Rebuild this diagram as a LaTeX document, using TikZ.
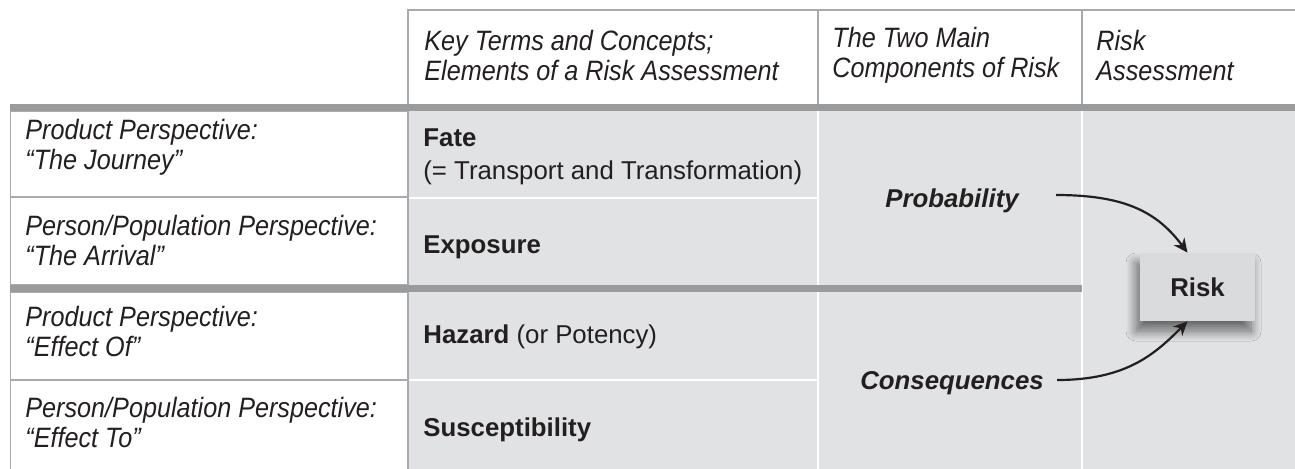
\documentclass[tikz,border=0pt]{standalone}
\usepackage{fontspec}
\setmainfont{Liberation Sans}
\newfontfamily\schmalfont[FakeStretch=0.9]{Liberation Sans}
\usepackage{tikz}
\usetikzlibrary{arrows.meta,positioning,calc,shadows.blur}
\definecolor{hgrau}{HTML}{E1E2E4}
\definecolor{lgrau}{HTML}{A9AAAC}
\definecolor{dgrau}{HTML}{9A9B9D}
\definecolor{kgrau}{HTML}{DADBDD}
\definecolor{schrift}{HTML}{231F20}

\begin{document}
\begin{tikzpicture}[x=0.5pt,y=-0.5pt,
  kopf/.style={font=\schmalfont\itshape\fontsize{14}{15}\selectfont, text=schrift, align=left, inner sep=0pt},
  begriff/.style={font=\fontsize{12.9}{16.5}\selectfont, text=schrift, align=left, inner sep=0pt},
  komp/.style={font=\bfseries\itshape\fontsize{12.9}{15}\selectfont, text=schrift, inner sep=0pt},
  riskbox/.style={fill=kgrau, minimum width=57.5pt, minimum height=34pt, inner sep=0pt,
    font=\bfseries\fontsize{12.9}{15}\selectfont, text=schrift,
    blur shadow={shadow xshift=-2pt, shadow yshift=-5pt, shadow blur radius=5pt, shadow blur steps=12, shadow opacity=55}},
  pfeil/.style={-{Stealth[length=7pt,width=6.5pt]}, line width=1.1pt, draw=schrift},
  duenn/.style={draw=lgrau, line width=0.9pt},
  balken/.style={draw=dgrau, line width=3.5pt},
  weiss/.style={draw=white, line width=1.3pt}]
\useasboundingbox (0,0) rectangle (1295,468);
%Spaltengrenzen in Pixeln: 10 | 408 | 818 | 1082 | 1295
\fill[hgrau] (408,111) rectangle (1295,470);
\foreach \oben/\unten in {111/197,197/285,292/380,380/472}{
  \draw[duenn,fill=white] (10.5,\oben) rectangle (408,\unten);
}
\draw[duenn] (1296,10) -- (408,10) -- (408,470);
\draw[duenn] (818,10) -- (818,104);
\draw[duenn] (1082,10) -- (1082,104);
%weisse Trennlinien im grauen Feld
\draw[weiss] (818,111) -- (818,470);
\draw[weiss] (1082,111) -- (1082,470);
\draw[weiss] (409,198) -- (817,198);
\draw[weiss] (409,380) -- (817,380);
\draw[balken] (10,107.5) -- (1295,107.5);
\draw[balken] (10,288.5) -- (1082,288.5);
%Kopfzeile
\node[kopf,anchor=west] (hbegriffe) at (424,55) {Key Terms and Concepts;\\Elements of a Risk Assessment};
\node[kopf,anchor=west] (hkomp) at (832,55) {The Two Main\\Components of Risk};
\node[kopf,anchor=west] (hbewert) at (1096,55) {Risk\\Assessment};
%linke Spalte
\foreach \name/\y/\txt in {sicht1/147/{Product Perspective:\\“The Journey”},
  sicht2/240/{Person/Population Perspective:\\“The Arrival”},
  sicht3/331/{Product Perspective:\\“Effect Of”},
  sicht4/422/{Person/Population Perspective:\\“Effect To”}}{
  \node[kopf,anchor=west] (\name) at (25,\y) {\txt};
}
%Begriffe
\node[begriff,anchor=west] (fate) at (423,157) {\textbf{Fate}\\(= Transport and Transformation)};
\node[begriff,anchor=west] (expo) at (423,247) {\textbf{Exposure}};
\node[begriff,anchor=west] (hazard) at (423,337) {\textbf{Hazard} (or Potency)};
\node[begriff,anchor=west] (suszept) at (423,430) {\textbf{Susceptibility}};
%Komponenten und Risiko
\node[komp] (prob) at (952,201) {Probability};
\node[komp] (konseq) at (952,383) {Consequences};
\node[riskbox] (risk) at (1197.5,287) {\raisebox{-2pt}{Risk}};
\coordinate (pstart) at (1056,195);
\coordinate (kstart) at (1057,380);
\draw[pfeil] (pstart) .. controls +(70,0) and +(-30,-40) .. ([xshift=-5pt]risk.north);
\draw[pfeil] (kstart) .. controls +(70,0) and +(-32,32) .. ([xshift=-5pt]risk.south);
\end{tikzpicture}
\end{document}
